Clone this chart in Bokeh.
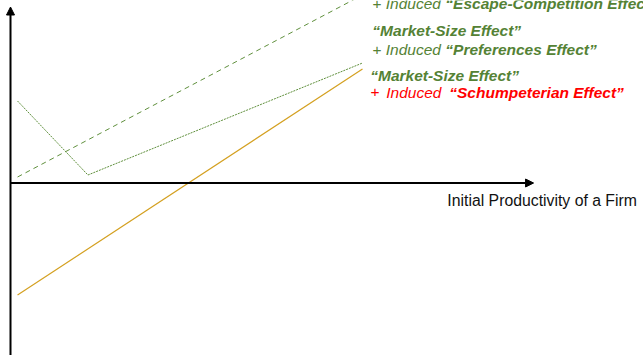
from bokeh.plotting import figure
from bokeh.models import Range1d, Arrow, NormalHead
from bokeh.core.properties import value
from bokeh.embed import file_html
from bokeh.resources import INLINE

# Data (abstract units: productivity on x, growth effect on y)
escape_x = [0.2, 10.0]
escape_y = [0.3, 9.4]
pref_x = [0.2, 2.2, 10.0]
pref_y = [4.1, 0.4, 6.0]
schump_x = [0.2, 10.0]
schump_y = [-5.6, 5.7]

x_axis_end = 14.86
y_axis_top = 8.8
y_axis_bottom = -8.7

label_x = 10.28
label_rows_y = [9.0, 7.63, 6.68, 5.38, 4.53]
axis_title = "Initial Productivity of a Firm"

GREEN = "#548235"
LINE_GREEN = "#5f8f3c"
ORANGE = "#d4a020"
RED = "#ff0000"
FONT = value("Liberation Sans")

p = figure(width=643, height=355, output_backend="svg", toolbar_location=None,
           x_range=Range1d(-10 / 35.2, 633 / 35.2), y_range=Range1d(-8.625, 9.125),
           min_border=0, x_axis_type=None, y_axis_type=None)
p.margin = (0, 0, 0, 0)
p.grid.visible = False
p.outline_line_color = None
p.background_fill_color = "white"
p.border_fill_color = "white"

# axes with arrow heads
p.add_layout(Arrow(end=NormalHead(size=8, fill_color="black", line_color="black"),
                   x_start=0, y_start=y_axis_bottom, x_end=0, y_end=y_axis_top,
                   line_width=2, line_color="black"))
p.add_layout(Arrow(end=NormalHead(size=8, fill_color="black", line_color="black"),
                   x_start=0, y_start=0, x_end=x_axis_end, y_end=0,
                   line_width=2, line_color="black"))

p.line(escape_x, escape_y, line_color=LINE_GREEN, line_width=1, line_dash="5 4")
p.line(pref_x, pref_y, line_color=LINE_GREEN, line_width=1, line_dash="2 1")
p.line(schump_x, schump_y, line_color=ORANGE, line_width=1.2)

fs = "15.5px"

def txt(x, y, s, color, style, xoff=0):
    p.text(x=[x], y=[y], text=[s], text_color=color, text_font=FONT,
           text_font_size=fs, text_font_style=style, text_baseline="middle",
           text_align="left", x_offset=xoff)

# row 0
txt(label_x, label_rows_y[0], "+ Induced ", GREEN, "italic")
txt(label_x, label_rows_y[0], "\u201cEscape-Competition Effect\u201d", GREEN, "bold italic", 73)
# row 1
txt(label_x, label_rows_y[1], "\u201cMarket-Size Effect\u201d", GREEN, "bold italic")
# row 2
txt(label_x, label_rows_y[2], "+ Induced ", GREEN, "italic")
txt(label_x, label_rows_y[2], "\u201cPreferences Effect\u201d", GREEN, "bold italic", 73)
# row 3
txt(label_x - 0.06, label_rows_y[3], "\u201cMarket-Size Effect\u201d", GREEN, "bold italic")
# row 4
txt(label_x - 0.06, label_rows_y[4], "+", RED, "italic")
txt(label_x - 0.06, label_rows_y[4], "Induced", RED, "italic", 16)
txt(label_x - 0.06, label_rows_y[4], "\u201cSchumpeterian Effect\u201d", RED, "bold italic", 79)

p.text(x=[12.41], y=[-0.875], text=[axis_title], text_color="#111111", text_font=FONT,
       text_font_size="15.8px", text_baseline="middle", text_align="left")

open("out.html", "w").write(file_html(p, INLINE))
